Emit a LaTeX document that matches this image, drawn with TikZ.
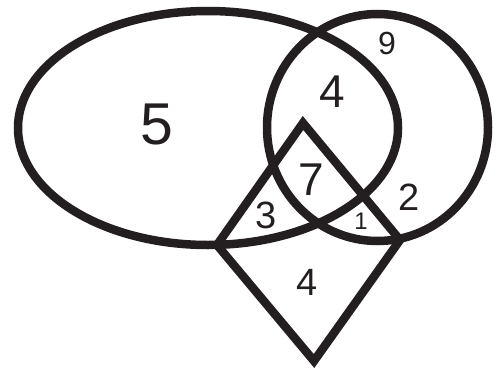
\documentclass[tikz,border=0pt]{standalone}
\usepackage{fontspec}
\setmainfont{Liberation Sans}

\begin{document}
\begin{tikzpicture}[x=1pt,y=-1pt]
  \definecolor{ink}{HTML}{231F20}
  \tikzset{
    set/.style={line width=8.5pt,draw=ink},
    num/.style={text=ink,inner sep=0pt},
    huge/.style={num,font=\fontsize{59}{59}\selectfont},
    big/.style={num,font=\fontsize{46}{46}\selectfont},
    mid/.style={num,font=\fontsize{38}{38}\selectfont},
    small/.style={num,font=\fontsize{32}{32}\selectfont},
    tiny/.style={num,font=\fontsize{24}{24}\selectfont}
  }
  \useasboundingbox (0,0) rectangle (497,372);

  % the three sets
  \draw[set] (208,128) ellipse [x radius=190,y radius=117];
  \draw[set] (377.5,127.5) ellipse [x radius=110.5,y radius=113.5];
  \coordinate (top) at (303,123);
  \coordinate (left) at (217,245);
  \coordinate (right) at (400,240);
  \coordinate (bottom) at (314,361);
  \draw[set] (top) -- (right) -- (bottom) -- (left) -- cycle;

  % region counts
  \node[huge] (onlyA) at (157,124) {5};
  \node[big] (AB) at (332,92) {4};
  \node[small] (onlyB) at (387,43) {9};
  \node[big] (ABC) at (311,180) {7};
  \node[mid] (BC) at (409,197) {2};
  \node[mid] (AC) at (266,215) {3};
  \node[tiny] (Cin) at (361,221) {1};
  \node[mid] (onlyC) at (307,282) {4};
\end{tikzpicture}
\end{document}
